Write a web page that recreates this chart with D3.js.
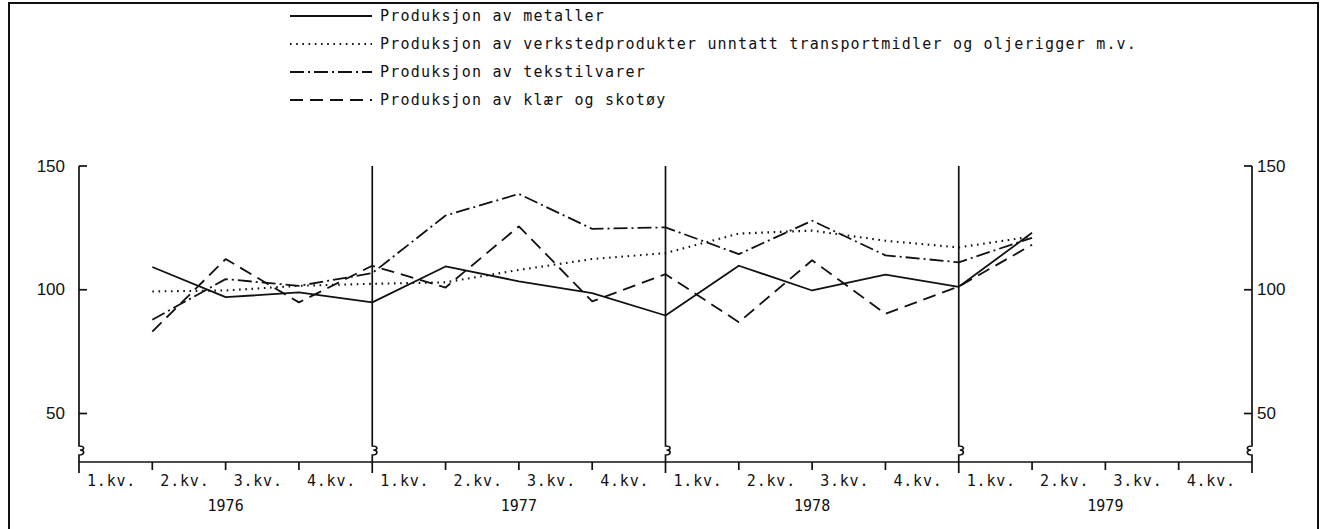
<!DOCTYPE html>
<html>
<head>
<meta charset="utf-8">
<script src="https://cdn.jsdelivr.net/npm/d3@7"></script>
<style>
  html, body { margin: 0; padding: 0; background: #fff; }
  svg { display: block; }
</style>
</head>
<body>
<div id="chart"></div>
<script>
// Industrial production indices, quarterly 1976-1979

var years = ['1976', '1977', '1978', '1979'];
var quarterLabels = ['1.kv.', '2.kv.', '3.kv.', '4.kv.'];
var yTicks = [50, 100, 150];

var metaller  = [109.2, 97.0, 98.9, 94.9, 109.4, 103.4, 98.6, 89.6, 109.7, 99.7, 106.1, 101.2, 123.0];
var verksted  = [99.3, 99.7, 101.6, 102.4, 103.0, 108.0, 112.4, 114.8, 122.7, 123.9, 119.8, 117.1, 121.5];
var tekstil   = [87.9, 104.3, 101.6, 106.7, 130.0, 138.7, 124.6, 125.2, 114.4, 127.9, 113.9, 111.1, 121.0];
var klaer     = [83.1, 112.4, 94.9, 109.7, 100.9, 125.6, 95.3, 106.3, 86.9, 111.9, 90.3, 101.3, 118.2];

var seriesNames = [
    'Produksjon av metaller',
    'Produksjon av verkstedprodukter unntatt transportmidler og oljerigger m.v.',
    'Produksjon av tekstilvarer',
    'Produksjon av klær og skotøy'
];

var series = [
    { name: seriesNames[0], values: metaller, dash: null },
    { name: seriesNames[1], values: verksted, dash: '1.6,4.6' },
    { name: seriesNames[2], values: tekstil,  dash: '14,4,2,4' },
    { name: seriesNames[3], values: klaer,    dash: '13,7' }
];

// ============================================================================
// LAYOUT
// ============================================================================

var W = 1326, H = 529;
var left = 79, right = 1252;
var yTop = 166, yBase = 462;
var monoFont = '"DejaVu Sans Mono", "Liberation Mono", monospace';
var numFont = '"Liberation Sans", Arial, sans-serif';
var ink = '#111';

var svg = d3.select('#chart').append('svg')
    .attr('width', W)
    .attr('height', H);

// outer frame (bottom edge falls outside the picture)
svg.append('path')
    .attr('d', 'M9,' + H + ' L9,3 L1318,3 L1318,' + H)
    .attr('fill', 'none')
    .attr('stroke', ink)
    .attr('stroke-width', 2);

// Scales: x in quarters (0 = start of 1976), points sit at the end of each quarter
var x = d3.scaleLinear().domain([0, 16]).range([left, right]);
var y = d3.scaleLinear().domain([50, 150]).range([413.5, yTop]);

// ============================================================================
// AXES
// ============================================================================

var axes = svg.append('g')
    .attr('fill', 'none')
    .attr('stroke', ink)
    .attr('stroke-width', 1.7);

// baseline
axes.append('line')
    .attr('x1', x(0)).attr('x2', x(16))
    .attr('y1', yBase).attr('y2', yBase);

// vertical year lines with break marks
[0, 4, 8, 12, 16].forEach(function(q) {
    var xx = x(q);
    var s = q === 16 ? -1 : 1;
    axes.append('path')
        .attr('d', 'M' + xx + ',' + yTop + ' L' + xx + ',446' +
            ' C' + (xx + s * 6) + ',446 ' + (xx + s * 6) + ',450 ' + (xx + s * 1) + ',450' +
            ' C' + (xx + s * 6) + ',450 ' + (xx + s * 6) + ',455 ' + xx + ',455' +
            ' L' + xx + ',473');
});

// quarter ticks under the baseline
d3.range(1, 16).filter(function(q) { return q % 4 !== 0; }).forEach(function(q) {
    axes.append('line')
        .attr('x1', x(q)).attr('x2', x(q))
        .attr('y1', yBase).attr('y2', yBase + 8);
});

// y ticks (pointing inward)
yTicks.forEach(function(v) {
    axes.append('line')
        .attr('x1', x(0)).attr('x2', x(0) + 8)
        .attr('y1', y(v)).attr('y2', y(v));
    axes.append('line')
        .attr('x1', x(16) - 8).attr('x2', x(16))
        .attr('y1', y(v)).attr('y2', y(v));
});

var labels = svg.append('g').attr('fill', ink);

yTicks.forEach(function(v) {
    labels.append('text')
        .attr('x', x(0) - 14).attr('y', y(v))
        .attr('text-anchor', 'end')
        .attr('dominant-baseline', 'central')
        .style('font', '17px ' + numFont)
        .text(v);
    labels.append('text')
        .attr('x', x(16) + 5).attr('y', y(v))
        .attr('dominant-baseline', 'central')
        .style('font', '17px ' + numFont)
        .text(v);
});

// quarter and year labels
years.forEach(function(yr, yi) {
    quarterLabels.forEach(function(ql, qi) {
        labels.append('text')
            .attr('x', x(yi * 4 + qi) + 8)
            .attr('y', yBase + 19)
            .attr('dominant-baseline', 'central')
            .style('font', '15px ' + monoFont)
            .style('letter-spacing', '0.8px')
            .text(ql);
    });
    labels.append('text')
        .attr('x', x(yi * 4 + 2))
        .attr('y', yBase + 44)
        .attr('text-anchor', 'middle')
        .attr('dominant-baseline', 'central')
        .style('font', '15px ' + monoFont)
        .text(yr);
});

// ============================================================================
// SERIES
// ============================================================================

var line = d3.line()
    .x(function(d, i) { return x(i + 1); })
    .y(function(d) { return y(d); });

svg.append('g').selectAll('path')
    .data(series)
    .join('path')
    .attr('d', function(d) { return line(d.values); })
    .attr('fill', 'none')
    .attr('stroke', ink)
    .attr('stroke-width', function(d) { return d.dash === '1.6,4.6' ? 2.1 : 1.8; })
    .attr('stroke-dasharray', function(d) { return d.dash; })
    .attr('stroke-linejoin', 'round');

// ============================================================================
// LEGEND
// ============================================================================

var legendRows = [16, 44, 72, 100];
var legend = svg.append('g');
series.forEach(function(s, i) {
    legend.append('line')
        .attr('x1', 290).attr('x2', 372)
        .attr('y1', legendRows[i]).attr('y2', legendRows[i])
        .attr('stroke', ink)
        .attr('stroke-width', s.dash === '1.6,4.6' ? 2.1 : 1.8)
        .attr('stroke-dasharray', s.dash);
    legend.append('text')
        .attr('x', 380).attr('y', legendRows[i])
        .attr('dominant-baseline', 'central')
        .attr('fill', ink)
        .style('font', '15px ' + monoFont)
        .style('letter-spacing', '1.2px')
        .text(s.name);
});
</script>
</body>
</html>
